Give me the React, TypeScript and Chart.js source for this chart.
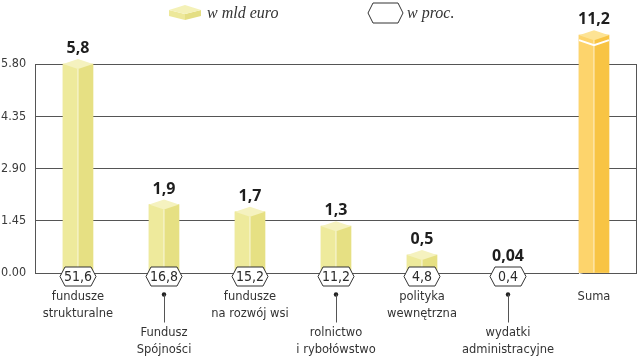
import React, { useEffect, useRef } from 'react';
import { Chart, registerables } from 'chart.js';

Chart.register(...registerables);

// ---- data ----
const categoryLines: string[][] = [
  ['fundusze', 'strukturalne'],
  ['Fundusz', 'Spójności'],
  ['fundusze', 'na rozwój wsi'],
  ['rolnictwo', 'i rybołówstwo'],
  ['polityka', 'wewnętrzna'],
  ['wydatki', 'administracyjne'],
  ['Suma'],
];
const valuesBnEuro = [5.8, 1.9, 1.7, 1.3, 0.5, 0.04, 11.2];
const sharePercent: (number | null)[] = [51.6, 16.8, 15.2, 11.2, 4.8, 0.4, null];
const yTickValues = [0, 1.45, 2.9, 4.35, 5.8];
const legendLabels = ['w mld euro', 'w proc.'];
const breakAt = 6.6; // the "Suma" bar is drawn broken above this value
const sumIndex = 6;

const plottedValues = valuesBnEuro.map((v) => Math.min(v, breakAt));
const fmt = (v: number) => String(v).replace('.', ',');

const LABEL_FONT = "'DejaVu Sans', sans-serif";
const TICK_FONT = "'Liberation Sans Narrow', 'DejaVu Sans Condensed', sans-serif";
const VALUE_FONT = "'Open Sans', 'DejaVu Sans', sans-serif";
const LEGEND_FONT = "'Liberation Serif', 'DejaVu Serif', serif";

const palette = {
  left: '#EEEA9C',
  right: '#E6E083',
  top: '#F5F2BF',
  sumLeft: '#FDD46C',
  sumRight: '#F8C444',
  sumTop: '#FDE394',
  ink: '#2b2b2b',
  grid: '#555555',
};

function hexPath(ctx: CanvasRenderingContext2D, cx: number, cy: number, w: number, h: number) {
  const hw = w / 2;
  const hh = h / 2;
  const tip = 5;
  ctx.beginPath();
  ctx.moveTo(cx - hw, cy);
  ctx.lineTo(cx - hw + tip, cy - hh);
  ctx.lineTo(cx + hw - tip, cy - hh);
  ctx.lineTo(cx + hw, cy);
  ctx.lineTo(cx + hw - tip, cy + hh);
  ctx.lineTo(cx - hw + tip, cy + hh);
  ctx.closePath();
}

function drawBox(
  ctx: CanvasRenderingContext2D,
  x: number,
  y: number,
  base: number,
  width: number,
  left: string,
  right: string,
  top: string,
  capH: number
) {
  const L = x - width / 2;
  const R = x + width / 2;
  ctx.fillStyle = left;
  ctx.fillRect(L, y, width / 2, base - y);
  ctx.fillStyle = right;
  ctx.fillRect(x, y, width / 2, base - y);
  ctx.fillStyle = top;
  ctx.beginPath();
  ctx.moveTo(L, y);
  ctx.lineTo(x, y - capH);
  ctx.lineTo(R, y);
  ctx.lineTo(x, y + capH);
  ctx.closePath();
  ctx.fill();
  ctx.strokeStyle = 'rgba(255,255,255,0.7)';
  ctx.lineWidth = 1;
  ctx.beginPath();
  ctx.moveTo(x, y + capH);
  ctx.lineTo(x, base);
  ctx.stroke();
}

const decorPlugin = {
  id: 'decor',
  beforeDatasetsDraw(chart: any) {
    const { ctx, chartArea, scales } = chart;
    const yTop = scales.y.getPixelForValue(yTickValues[yTickValues.length - 1]);
    const yBot = scales.y.getPixelForValue(0);
    ctx.save();
    ctx.strokeStyle = palette.grid;
    ctx.lineWidth = 1;
    ctx.beginPath();
    ctx.moveTo(Math.round(chartArea.left) + 0.5, yTop);
    ctx.lineTo(Math.round(chartArea.left) + 0.5, yBot);
    ctx.moveTo(Math.round(chartArea.right) - 0.5, yTop);
    ctx.lineTo(Math.round(chartArea.right) - 0.5, yBot);
    ctx.stroke();
    ctx.restore();
  },
  afterDatasetsDraw(chart: any) {
    const { ctx } = chart;
    const meta = chart.getDatasetMeta(0);
    ctx.save();
    meta.data.forEach((el: any, i: number) => {
      const { x, y, base, width } = el.getProps(['x', 'y', 'base', 'width'], true);
      const isSum = i === sumIndex;
      drawBox(
        ctx, x, y, base, width,
        isSum ? palette.sumLeft : palette.left,
        isSum ? palette.sumRight : palette.right,
        isSum ? palette.sumTop : palette.top,
        5
      );
      if (isSum && valuesBnEuro[i] > breakAt) {
        const L = x - width / 2;
        const R = x + width / 2;
        ctx.strokeStyle = '#ffffff';
        ctx.lineWidth = 2;
        ctx.beginPath();
        ctx.moveTo(L, y + 5);
        ctx.lineTo(x, y + 10);
        ctx.lineTo(R, y + 5);
        ctx.stroke();
        ctx.fillStyle = '#ffffff';
        ctx.beginPath();
        ctx.moveTo(L, base + 0.5);
        ctx.lineTo(x, base + 4);
        ctx.lineTo(L, base + 4);
        ctx.closePath();
        ctx.fill();
      }

      // value label
      ctx.fillStyle = '#1e1e1e';
      ctx.font = `bold 16px ${VALUE_FONT}`;
      ctx.textAlign = 'center';
      ctx.textBaseline = 'alphabetic';
      ctx.fillText(fmt(valuesBnEuro[i]), x, y - 11);

      // percentage hexagon
      const pct = sharePercent[i];
      const hexCy = base + 4;
      if (pct !== null && pct !== undefined) {
        hexPath(ctx, x, hexCy, 36, 19);
        ctx.fillStyle = '#ffffff';
        ctx.fill();
        ctx.strokeStyle = '#333333';
        ctx.lineWidth = 1;
        ctx.stroke();
        ctx.fillStyle = palette.ink;
        ctx.font = `14px ${TICK_FONT}`;
        ctx.textBaseline = 'middle';
        ctx.fillText(fmt(pct), x, hexCy + 0.5);
      }

      // category label
      const lines = categoryLines[i];
      const dropped = i % 2 === 1 && i !== sumIndex;
      ctx.fillStyle = '#333333';
      ctx.font = `11.5px ${LABEL_FONT}`;
      ctx.textBaseline = 'middle';
      if (dropped) {
        ctx.beginPath();
        ctx.arc(x, base + 22, 2.2, 0, Math.PI * 2);
        ctx.fillStyle = '#222222';
        ctx.fill();
        ctx.strokeStyle = '#555555';
        ctx.lineWidth = 1;
        ctx.beginPath();
        ctx.moveTo(Math.round(x) + 0.5, base + 22);
        ctx.lineTo(Math.round(x) + 0.5, base + 50);
        ctx.stroke();
        ctx.fillStyle = '#333333';
        lines.forEach((t, k) => ctx.fillText(t, x, base + 61 + k * 16.5));
      } else {
        lines.forEach((t, k) => ctx.fillText(t, x, base + 25 + k * 16.5));
      }
    });
    ctx.restore();
  },
  afterDraw(chart: any) {
    const { ctx } = chart;
    ctx.save();
    const cx = 185;
    const L = 169;
    const R = 201;
    ctx.fillStyle = '#EDE89A';
    ctx.beginPath();
    ctx.moveTo(L, 10); ctx.lineTo(cx, 14); ctx.lineTo(cx, 20); ctx.lineTo(L, 16); ctx.closePath();
    ctx.fill();
    ctx.fillStyle = '#E4DE84';
    ctx.beginPath();
    ctx.moveTo(cx, 14); ctx.lineTo(R, 10); ctx.lineTo(R, 16); ctx.lineTo(cx, 20); ctx.closePath();
    ctx.fill();
    ctx.fillStyle = '#F4F1B8';
    ctx.beginPath();
    ctx.moveTo(L, 10); ctx.lineTo(cx, 5); ctx.lineTo(R, 10); ctx.lineTo(cx, 14); ctx.closePath();
    ctx.fill();

    ctx.fillStyle = '#333333';
    ctx.font = `italic 16px ${LEGEND_FONT}`;
    ctx.textAlign = 'left';
    ctx.textBaseline = 'alphabetic';
    ctx.fillText(legendLabels[0], 207, 18);

    hexPath(ctx, 385.5, 13, 35, 20);
    ctx.fillStyle = '#ffffff';
    ctx.fill();
    ctx.strokeStyle = '#333333';
    ctx.lineWidth = 1;
    ctx.stroke();
    ctx.fillStyle = '#333333';
    ctx.fillText(legendLabels[1], 407, 18);
    ctx.restore();
  },
};

export default function App() {
  const canvasRef = useRef<HTMLCanvasElement | null>(null);

  useEffect(() => {
    document.body.style.margin = '0';
    const canvas = canvasRef.current;
    if (!canvas) return;
    const chart = new Chart(canvas, {
      type: 'bar',
      data: {
        labels: categoryLines.map((l) => l.join(' ')),
        datasets: [
          {
            label: legendLabels[0],
            data: plottedValues,
            backgroundColor: plottedValues.map((_, i) => (i === sumIndex ? palette.sumRight : palette.right)),
            borderWidth: 0,
            barThickness: 30,
            clip: false as any,
          },
        ],
      },
      options: {
        responsive: false,
        animation: false,
        devicePixelRatio: 1,
        layout: { padding: { left: 1, right: 3, top: 64, bottom: 85 } },
        plugins: {
          legend: { display: false },
          tooltip: { enabled: false },
        },
        scales: {
          x: {
            type: 'category',
            display: false,
            offset: true,
          },
          y: {
            min: 0,
            max: yTickValues[yTickValues.length - 1],
            afterBuildTicks: (s: any) => {
              s.ticks = yTickValues.map((v) => ({ value: v }));
            },
            afterFit: (s: any) => {
              s.width = 34;
            },
            grid: { color: palette.grid, lineWidth: 1, drawTicks: false },
            border: { display: false },
            ticks: {
              crossAlign: 'far',
              padding: 0,
              color: '#3a3a3a',
              font: { family: TICK_FONT, size: 12.5 },
              callback: (v: any) => Number(v).toFixed(2),
            },
          },
        },
      },
      plugins: [decorPlugin],
    });
    return () => chart.destroy();
  }, []);

  return (
    <div style={{ width: 640, height: 358 }}>
      <canvas ref={canvasRef} width={640} height={358} />
    </div>
  );
}
